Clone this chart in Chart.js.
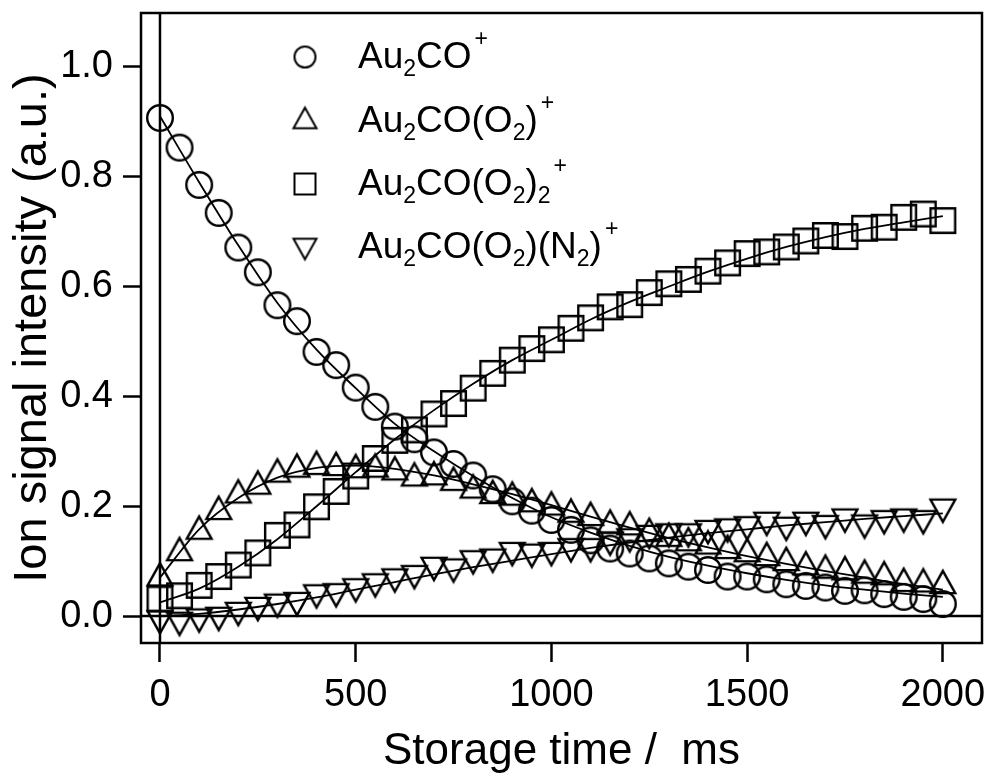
<!doctype html>
<html lang="en">
<head>
<meta charset="utf-8">
<title>Au2CO+ signal vs storage time</title>
<script src="https://cdn.jsdelivr.net/npm/chart.js"></script>
<style>
html, body {margin: 0; padding: 0; background: #fff;}
#wrap {width: 987px; height: 778px;}
</style>
</head>
<body>
<div id="wrap"><canvas id="chart" width="987" height="778"></canvas></div>
<script>
// Mesures : temps de stockage (ms), un point tous les 50 ms
const times = [0, 50, 100, 150, 200, 250, 300, 350, 400, 450, 500, 550, 600, 650, 700, 750, 800, 850, 900, 950,
  1000, 1050, 1100, 1150, 1200, 1250, 1300, 1350, 1400, 1450, 1500, 1550, 1600, 1650, 1700, 1750, 1800, 1850, 1900, 1950, 2000];

const au2co = [0.907, 0.853, 0.785, 0.734, 0.671, 0.626, 0.566, 0.537, 0.481, 0.457, 0.416, 0.381, 0.345, 0.322, 0.298,
  0.277, 0.256, 0.231, 0.209, 0.192, 0.175, 0.157, 0.138, 0.123, 0.114, 0.105, 0.096, 0.090, 0.084, 0.072, 0.072,
  0.067, 0.058, 0.055, 0.052, 0.046, 0.047, 0.040, 0.035, 0.031, 0.022];
const au2coO2 = [0.076, 0.122, 0.161, 0.197, 0.227, 0.243, 0.265, 0.274, 0.279, 0.277, 0.273, 0.274, 0.269, 0.258, 0.260,
  0.250, 0.236, 0.226, 0.223, 0.211, 0.205, 0.192, 0.186, 0.172, 0.169, 0.157, 0.148, 0.140, 0.134, 0.126, 0.120,
  0.113, 0.104, 0.096, 0.090, 0.087, 0.081, 0.078, 0.066, 0.065, 0.062];
const au2coO22 = [0.031, 0.037, 0.056, 0.072, 0.093, 0.115, 0.147, 0.166, 0.199, 0.227, 0.255, 0.287, 0.320, 0.339, 0.368,
  0.387, 0.415, 0.442, 0.466, 0.487, 0.503, 0.524, 0.543, 0.563, 0.567, 0.589, 0.605, 0.613, 0.628, 0.643, 0.660,
  0.663, 0.672, 0.683, 0.693, 0.691, 0.706, 0.708, 0.726, 0.732, 0.720];
const au2coO2N2 = [-0.011, -0.014, -0.008, -0.005, 0.004, 0.013, 0.019, 0.022, 0.036, 0.038, 0.047, 0.056, 0.065, 0.071, 0.086,
  0.083, 0.098, 0.101, 0.113, 0.110, 0.113, 0.120, 0.120, 0.132, 0.138, 0.144, 0.147, 0.147, 0.153, 0.156, 0.160,
  0.168, 0.159, 0.168, 0.162, 0.174, 0.163, 0.171, 0.174, 0.171, 0.192];

// Courbes d'ajustement (tous les 100 ms)
const fitTimes = [0, 100, 200, 300, 400, 500, 600, 700, 800, 900, 1000, 1100, 1200, 1300, 1400, 1500, 1600, 1700, 1800, 1900, 2000];
const fitAu2co = [0.91, 0.79, 0.675, 0.57, 0.485, 0.415, 0.35, 0.30, 0.255, 0.215, 0.18, 0.152, 0.128, 0.108, 0.092, 0.078, 0.066, 0.056, 0.048, 0.041, 0.035];
const fitAu2coO2 = [0.07, 0.158, 0.215, 0.252, 0.27, 0.274, 0.268, 0.256, 0.24, 0.222, 0.202, 0.181, 0.161, 0.142, 0.125, 0.109, 0.095, 0.082, 0.07, 0.058, 0.048];
const fitAu2coO22 = [0.025, 0.05, 0.09, 0.14, 0.2, 0.262, 0.322, 0.375, 0.423, 0.466, 0.503, 0.54, 0.572, 0.6, 0.627, 0.651, 0.672, 0.69, 0.705, 0.717, 0.728];
const fitAu2coO2N2 = [0.0, 0.004, 0.012, 0.022, 0.034, 0.048, 0.062, 0.076, 0.089, 0.101, 0.113, 0.124, 0.134, 0.143, 0.151, 0.158, 0.165, 0.171, 0.177, 0.182, 0.187];

const xTicks = [0, 500, 1000, 1500, 2000];
const yTicks = [0.0, 0.2, 0.4, 0.6, 0.8, 1.0];

// Légende : [texte, mode] avec mode '' normal, 's' indice, 'p' exposant
const legendRows = [
  [['Au', ''], ['2', 's'], ['CO', ''], ['+', 'p']],
  [['Au', ''], ['2', 's'], ['CO(O', ''], ['2', 's'], [')', ''], ['+', 'p']],
  [['Au', ''], ['2', 's'], ['CO(O', ''], ['2', 's'], [')', ''], ['2', 's'], ['+', 'p']],
  [['Au', ''], ['2', 's'], ['CO(O', ''], ['2', 's'], [')(N', ''], ['2', 's'], [')', ''], ['+', 'p']]
];
const legendShapes = ['circle', 'up', 'square', 'down'];

const FONT = "'Liberation Sans', Arial, Helvetica, sans-serif";

// Dessine un marqueur creux dans un petit canvas (centré sur sa boîte)
function marker(shape, half, lw) {
  const size = Math.ceil(half * 2 + lw + 4);
  const c = document.createElement('canvas');
  c.width = size; c.height = size;
  const g = c.getContext('2d');
  const m = size / 2;
  g.strokeStyle = '#000';
  g.lineWidth = lw;
  g.beginPath();
  if (shape === 'circle') {
    g.arc(m, m, half, 0, Math.PI * 2);
  } else if (shape === 'square') {
    g.rect(m - half, m - half, half * 2, half * 2);
  } else {
    const h = half * 1.8;
    const dir = shape === 'up' ? 1 : -1;
    g.moveTo(m, m - dir * h / 2);
    g.lineTo(m + half, m + dir * h / 2);
    g.lineTo(m - half, m + dir * h / 2);
    g.closePath();
  }
  g.stroke();
  return c;
}

const pts = (xs, ys) => xs.map((v, i) => ({x: v, y: ys[i]}));

function scatterSet(ys, shape, half) {
  return {
    type: 'scatter',
    data: pts(times, ys),
    pointStyle: marker(shape, half, 2.4),
    pointRadius: 13,
    showLine: false,
    clip: false
  };
}

function fitSet(ys) {
  return {
    type: 'line',
    data: pts(fitTimes, ys),
    borderColor: '#000',
    borderWidth: 1.8,
    pointRadius: 0,
    cubicInterpolationMode: 'monotone',
    fill: false,
    clip: false
  };
}

// Cadre, lignes du zéro et légende
const decor = {
  id: 'decor',
  beforeDatasetsDraw(chart) {
    const {ctx, chartArea: a, scales: {x, y}} = chart;
    ctx.save();
    ctx.strokeStyle = '#000';
    ctx.lineWidth = 2.5;
    const x0 = x.getPixelForValue(0), y0 = y.getPixelForValue(0);
    ctx.beginPath();
    ctx.moveTo(x0, a.top); ctx.lineTo(x0, a.bottom);
    ctx.moveTo(a.left, y0); ctx.lineTo(a.right, y0);
    ctx.stroke();
    ctx.restore();
  },
  afterDraw(chart) {
    const {ctx, chartArea: a} = chart;
    ctx.save();
    ctx.strokeStyle = '#000';
    ctx.lineWidth = 2.5;
    ctx.strokeRect(a.left, a.top, a.right - a.left, a.bottom - a.top);

    const markY = [57, 118, 184, 249];
    const baseY = [68, 132, 195, 258];
    ctx.fillStyle = '#000';
    ctx.textBaseline = 'alphabetic';
    ctx.textAlign = 'left';
    legendRows.forEach((row, i) => {
      const tri = legendShapes[i] === 'up' || legendShapes[i] === 'down';
      const img = marker(legendShapes[i], tri ? 11.5 : 10.5, 2);
      ctx.drawImage(img, 305 - img.width / 2, markY[i] - img.height / 2);
      let tx = 358;
      row.forEach(([txt, mode]) => {
        if (mode === '') {
          ctx.font = '37px ' + FONT;
          ctx.fillText(txt, tx, baseY[i]);
        } else if (mode === 's') {
          ctx.font = '23px ' + FONT;
          ctx.fillText(txt, tx, baseY[i] + 8);
        } else {
          ctx.font = '23px ' + FONT;
          tx += 3;
          ctx.fillText(txt, tx, baseY[i] - 22);
        }
        tx += ctx.measureText(txt).width;
      });
    });
    ctx.restore();
  }
};

new Chart(document.getElementById('chart').getContext('2d'), {
  data: {
    datasets: [
      scatterSet(au2co, 'circle', 12.8),
      scatterSet(au2coO2, 'up', 12.4),
      scatterSet(au2coO22, 'square', 12.3),
      scatterSet(au2coO2N2, 'down', 12.4),
      fitSet(fitAu2co),
      fitSet(fitAu2coO2),
      fitSet(fitAu2coO22),
      fitSet(fitAu2coO2N2)
    ]
  },
  options: {
    responsive: false,
    devicePixelRatio: 1,
    animation: false,
    events: [],
    // pas de marge automatique liée à la taille des marqueurs
    layout: {autoPadding: false, padding: {top: 13, right: 5, left: 0, bottom: 0}},
    plugins: {legend: {display: false}, tooltip: {enabled: false}},
    scales: {
      x: {
        type: 'linear',
        min: -48.5,
        max: 2100,
        afterBuildTicks: s => { s.ticks = xTicks.map(v => ({value: v})); },
        afterFit: s => { s.height = 135; s.paddingLeft = 0; s.paddingRight = 0; },
        grid: {display: true, drawOnChartArea: false, drawTicks: true, tickLength: 19, tickWidth: 2.5, tickColor: '#000'},
        border: {display: false},
        // padding 0 : le décalage vertical passe par la hauteur de ligne
        ticks: {color: '#000', font: {family: FONT, size: 38, lineHeight: 1.78}, padding: 0, maxRotation: 0, autoSkip: false,
          callback: v => String(v)},
        title: {display: true, text: 'Storage time /  ms', color: '#000',
          font: {family: FONT, size: 44, lineHeight: 1}, padding: {top: 0, bottom: 4}}
      },
      y: {
        type: 'linear',
        min: -0.049,
        max: 1.098,
        afterBuildTicks: s => { s.ticks = yTicks.map(v => ({value: v})); },
        afterFit: s => { s.width = 141; s.paddingTop = 0; s.paddingBottom = 0; },
        grid: {display: true, drawOnChartArea: false, drawTicks: true, tickLength: 18, tickWidth: 2.5, tickColor: '#000'},
        border: {display: false},
        ticks: {color: '#000', font: {family: FONT, size: 38}, padding: 10, autoSkip: false,
          callback: v => v.toFixed(1)},
        title: {display: true, text: 'Ion signal intensity (a.u.)', color: '#000',
          font: {family: FONT, size: 47, lineHeight: 1}, padding: {top: 10, bottom: 0}}
      }
    }
  },
  plugins: [decor]
});
</script>
</body>
</html>
